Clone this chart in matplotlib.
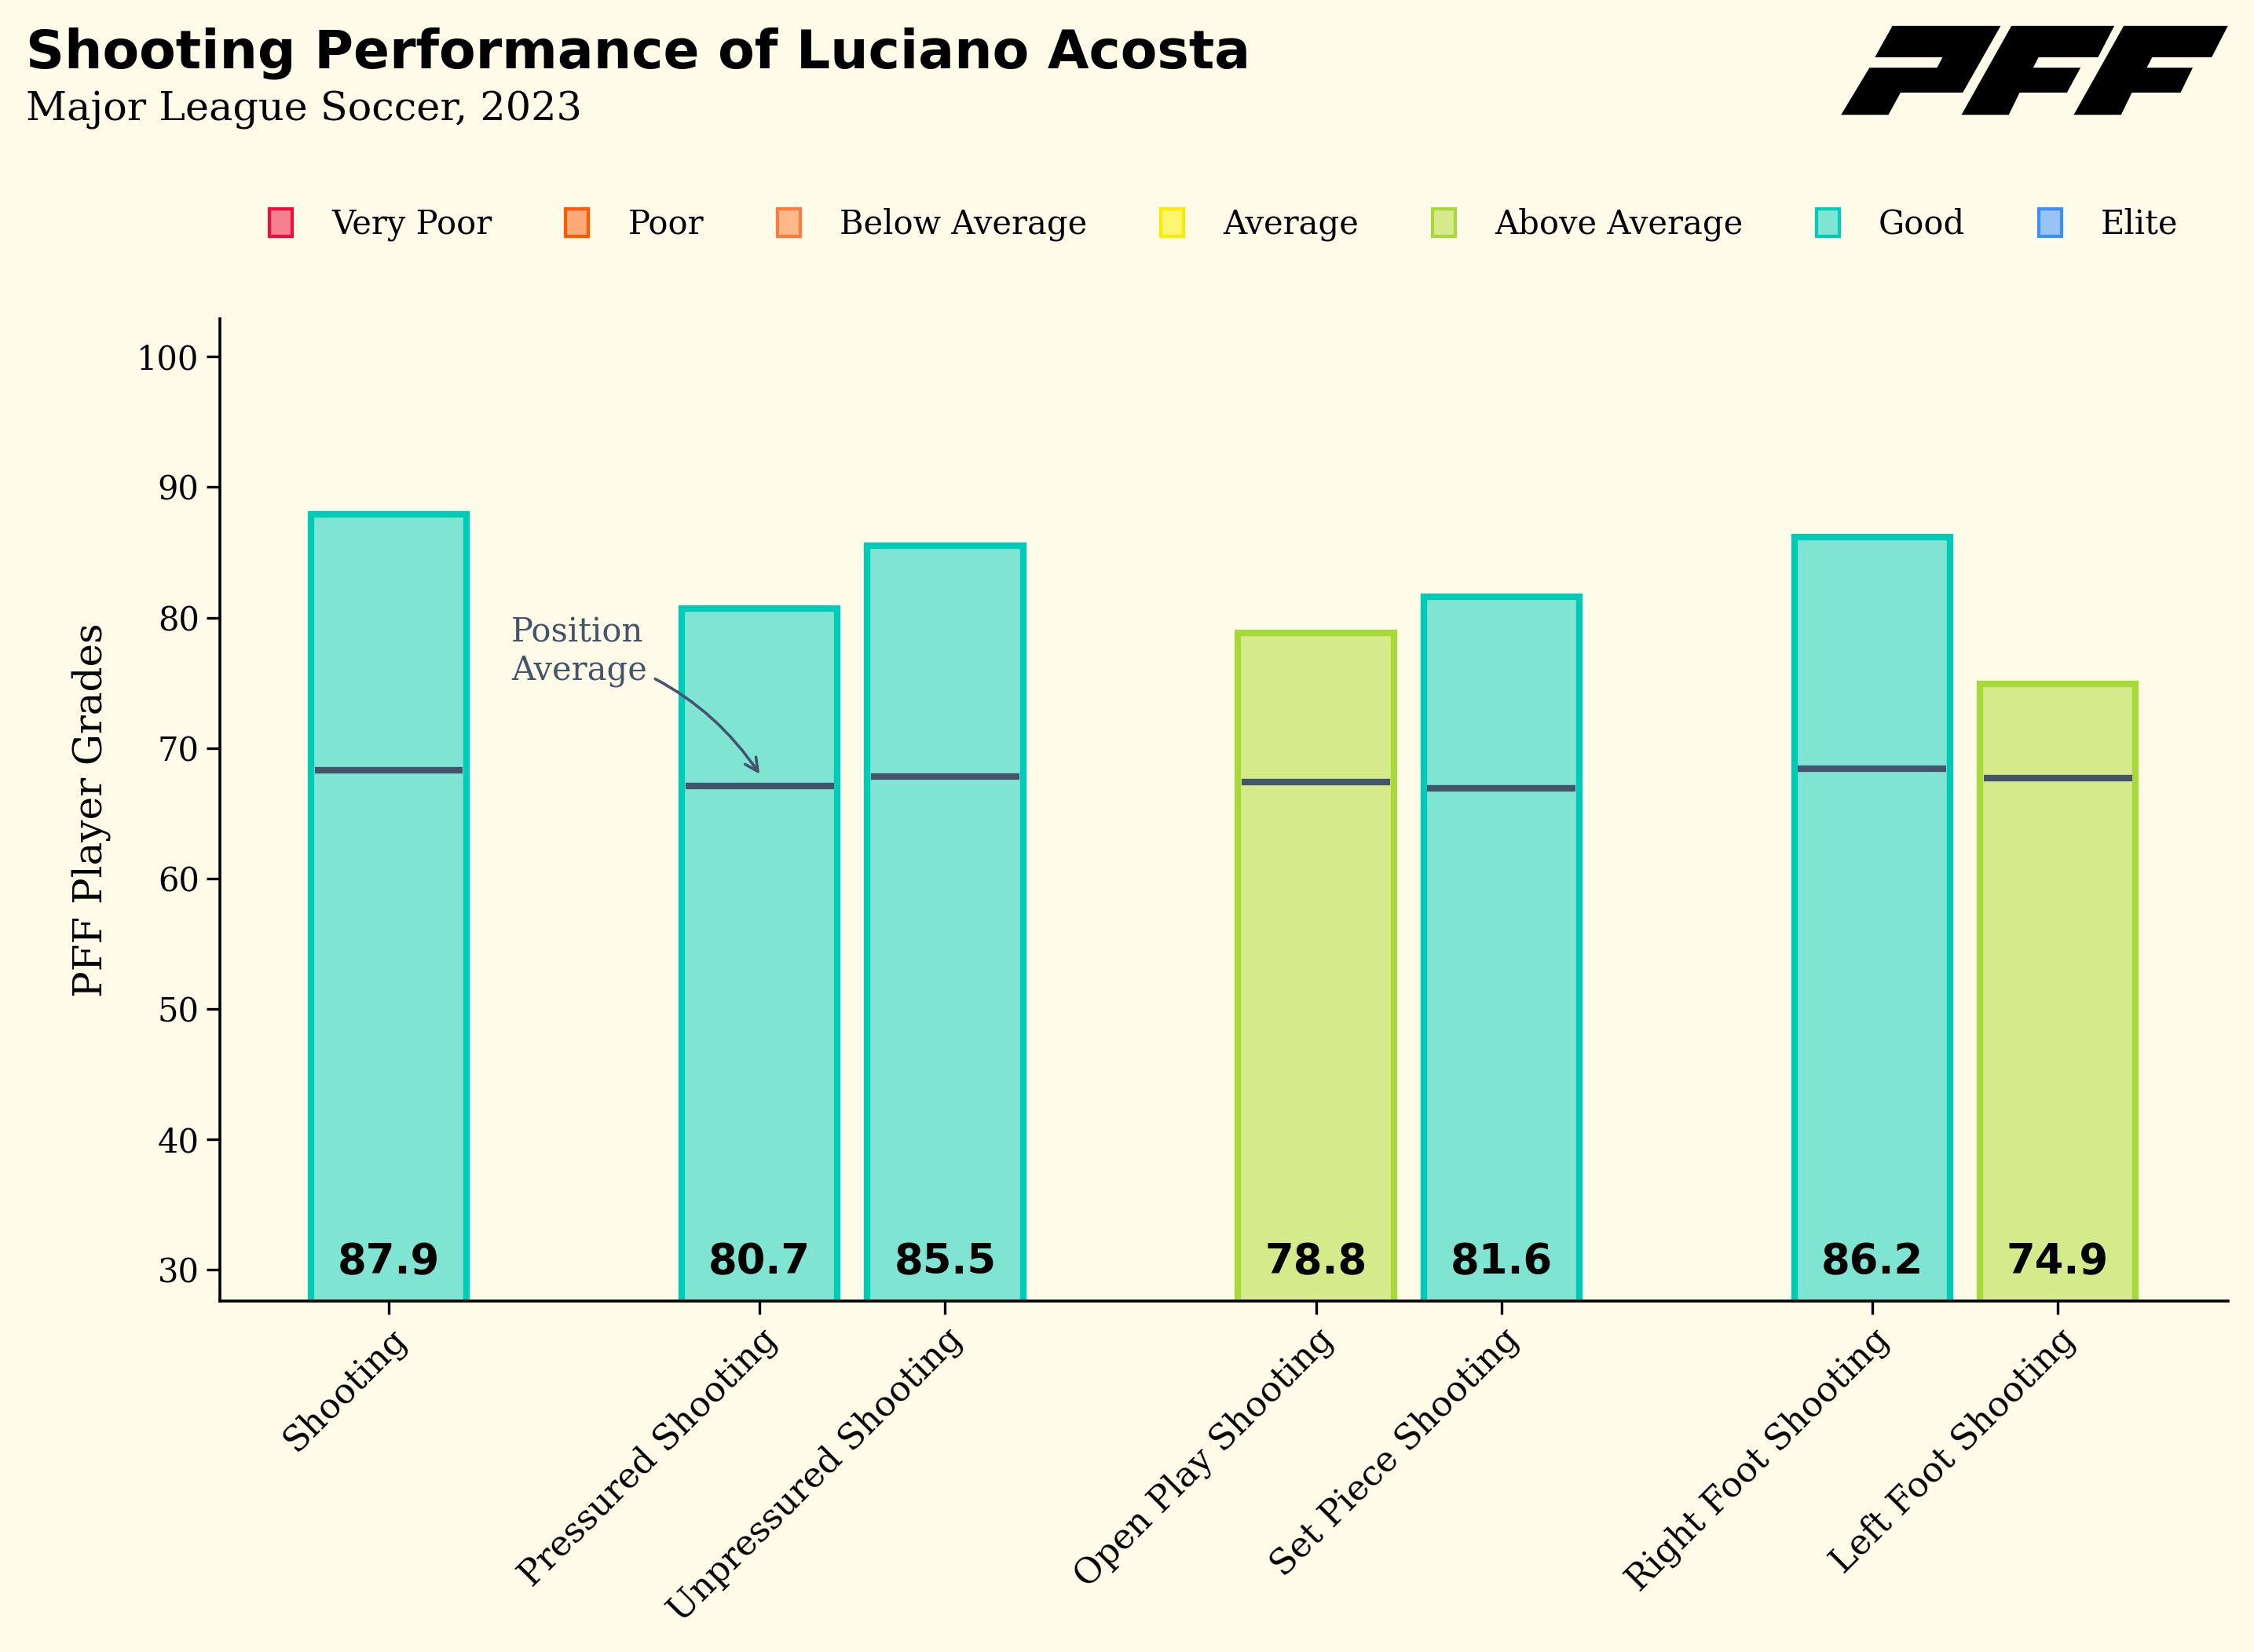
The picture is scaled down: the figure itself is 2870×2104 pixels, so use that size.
import numpy as np
import matplotlib
matplotlib.use("Agg")
import matplotlib.pyplot as plt
from matplotlib.patches import Patch, Polygon

# data
categories = ["Shooting", "Pressured Shooting", "Unpressured Shooting",
              "Open Play Shooting", "Set Piece Shooting",
              "Right Foot Shooting", "Left Foot Shooting"]
positions = [0, 2, 3, 5, 6, 8, 9]
grades = [87.9, 80.7, 85.5, 78.8, 81.6, 86.2, 74.9]
pos_avg = [68.3, 67.1, 67.8, 67.4, 66.9, 68.4, 67.7]
tiers = ["Good", "Good", "Good", "Above Average", "Good", "Good", "Above Average"]

tier_names = ["Very Poor", "Poor", "Below Average", "Average",
              "Above Average", "Good", "Elite"]
tier_edge = ["#f20c3c", "#ff5a00", "#ff7b3a", "#ffe900", "#a8d93a", "#00cbb9", "#3d8ef7"]
tier_fill = ["#f5808f", "#ffa878", "#ffb88a", "#fff670", "#d5eb8b", "#7fe5d2", "#98c4f5"]

bg = "#fefbe9"
avg_col = "#44546a"

plt.rcParams["font.family"] = ["DejaVu Serif"]

fig = plt.figure(figsize=(14.35, 10.52), dpi=200, facecolor=bg)
ax = fig.add_axes([0.0976, 0.2124, 0.891, 0.5946], facecolor=bg)

edge = [tier_edge[tier_names.index(t)] for t in tiers]
fill = [tier_fill[tier_names.index(t)] for t in tiers]
ax.bar(positions, grades, width=0.84, color=fill, edgecolor=edge, linewidth=3, zorder=2)

for x, a in zip(positions, pos_avg):
    ax.hlines(a, x - 0.4, x + 0.4, color=avg_col, linewidth=3, zorder=3)

for x, g in zip(positions, grades):
    ax.text(x, 30.6, f"{g:.1f}", ha="center", va="center", fontsize=19,
            fontweight="bold", family="DejaVu Sans", color="black", zorder=4)

ax.annotate("Position\nAverage", xy=(2.0, 68.0), xytext=(0.66, 77.4),
            fontsize=15, color=avg_col, ha="left", va="center",
            arrowprops=dict(arrowstyle="->", color=avg_col, lw=1.3,
                            connectionstyle="arc3,rad=-0.2",
                            shrinkA=2, shrinkB=0))

ax.set_xlim(-0.91, 9.92)
ax.set_ylim(27.6, 102.9)
ax.set_yticks([30, 40, 50, 60, 70, 80, 90, 100])
ax.set_xticks(positions)
ax.set_xticklabels(categories, rotation=45, ha="right", rotation_mode="anchor")
ax.tick_params(axis="y", labelsize=15, width=1.2, length=6, color="black")
ax.tick_params(axis="x", labelsize=16, width=1.2, length=6, color="black")
ax.set_ylabel("PFF Player Grades", fontsize=18, labelpad=12)
for s in ["top", "right"]:
    ax.spines[s].set_visible(False)
for s in ["left", "bottom"]:
    ax.spines[s].set_linewidth(1.3)

handles = [Patch(facecolor=f, edgecolor=e, linewidth=1.5, label=n)
           for n, f, e in zip(tier_names, tier_fill, tier_edge)]
fig.legend(handles=handles, loc="center", bbox_to_anchor=(0.543, 0.864), ncol=7,
           frameon=False, fontsize=15, handlelength=0.7, handleheight=0.9,
           columnspacing=2.25, handletextpad=1.2)

fig.text(0.0115, 0.959, "Shooting Performance of Luciano Acosta", fontsize=24.5,
         fontweight="bold", family="DejaVu Sans", ha="left", va="baseline")
fig.text(0.0115, 0.927, "Major League Soccer, 2023", fontsize=18.3,
         ha="left", va="baseline")

# PFF logo
lax = fig.add_axes([0.8084, 0.9202, 0.1882, 0.0713])
lax.set_xlim(0, 1568)
lax.set_ylim(450, 0)
lax.axis("off")
logo_p = [(260, 45), (660, 45), (520, 300), (290, 300), (245, 385), (70, 385),
          (175, 205), (425, 205), (445, 165), (195, 165)]
logo_f1 = [(700, 45), (1080, 45), (1020, 165), (800, 165), (780, 205), (955, 205),
           (905, 300), (730, 300), (690, 385), (515, 385)]
logo_f2 = [(1115, 45), (1500, 45), (1440, 165), (1220, 165), (1200, 205), (1370, 205),
           (1325, 300), (1145, 300), (1105, 385), (930, 385)]
for poly in [logo_p, logo_f1, logo_f2]:
    lax.add_patch(Polygon(poly, closed=True, facecolor="black", edgecolor="none"))

fig.savefig("out.png", dpi=200, facecolor=bg)
